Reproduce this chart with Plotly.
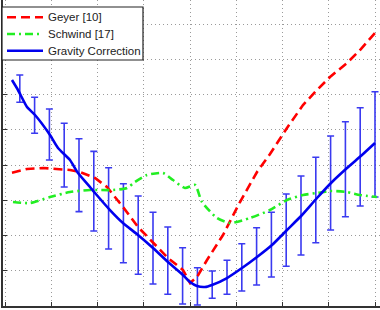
import plotly.graph_objects as go

# Gravity Correction (solid blue line)
grav_x = [0.151, 0.281, 0.476, 0.649, 0.973, 1.146, 1.405, 1.578, 1.838, 1.946, 2.270, 2.551,
          2.876, 3.200, 3.524, 3.849, 4.000, 4.151, 4.324, 4.476, 4.800, 5.124, 5.449, 5.773,
          6.097, 6.422, 6.746, 7.070, 7.395, 7.719, 8.0]
grav_y = [6.411, 6.128, 5.645, 5.418, 4.851, 4.482, 4.142, 3.773, 3.376, 3.206, 2.723, 2.355,
          2.014, 1.645, 1.248, 0.879, 0.681, 0.567, 0.539, 0.596, 0.794, 1.078, 1.390, 1.730,
          2.156, 2.582, 3.064, 3.518, 3.915, 4.284, 4.624]

# error bars
err_x = [0.32 * k for k in range(1, 26)]
err_mean = [6.166, 5.410, 4.865, 4.279, 3.711, 3.258, 2.770, 2.349, 2.010, 1.641, 1.287, 0.855,
            0.557, 0.606, 0.814, 1.096, 1.409, 1.740, 2.152, 2.567, 3.007, 3.489, 3.881, 4.231, 4.586]
err_half = [0.387, 0.511, 0.723, 0.904, 1.035, 1.130, 1.153, 1.121, 1.111, 1.017, 0.955, 0.799,
            0.529, 0.387, 0.482, 0.671, 0.813, 0.918, 1.026, 1.121, 1.211, 1.333, 1.348, 1.394, 1.494]

# Geyer [10] (red dashed)
geyer_x = [0.151, 0.476, 0.822, 1.081, 1.405, 1.622, 1.946, 2.205, 2.551, 2.876, 3.200, 3.524,
           3.849, 4.000, 4.151, 4.368, 4.714, 5.081, 5.449, 5.730, 6.097, 6.443, 6.746, 7.027,
           7.395, 7.676, 8.0]
geyer_y = [3.782, 3.887, 3.915, 3.887, 3.858, 3.801, 3.631, 3.376, 2.809, 2.241, 1.787, 1.362,
           1.021, 0.652, 0.823, 1.305, 2.014, 2.950, 3.801, 4.312, 5.050, 5.700, 6.128, 6.496,
           6.894, 7.262, 7.745]

# Schwind [17] (green dash-dot)
schwind_x = [0.173, 0.541, 0.973, 1.405, 1.838, 2.335, 2.638, 2.811, 3.070, 3.416, 3.632, 3.892,
             4.108, 4.259, 4.584, 4.865, 5.297, 5.730, 6.097, 6.443, 6.746, 7.027, 7.395, 7.676, 8.04]
schwind_y = [2.950, 2.922, 3.092, 3.234, 3.291, 3.291, 3.348, 3.518, 3.716, 3.773, 3.574, 3.348,
             3.433, 2.950, 2.496, 2.355, 2.496, 2.723, 3.007, 3.149, 3.206, 3.262, 3.234, 3.149, 3.092]

series_names = ["Geyer [10]", "Schwind [17]", "Gravity Correction"]
series_colors = ["#ff0000", "#22ee22", "#0000ee"]
series_dash = ["9px,5px", "8px,4px,2px,4px", "solid"]

fig = go.Figure()

fig.add_trace(go.Scatter(
    x=err_x, y=err_mean, mode="markers", showlegend=False,
    marker=dict(size=0.1, color="rgba(0,0,0,0)"),
    error_y=dict(type="data", array=err_half, visible=True, color="#3a3af0",
                 thickness=1.6, width=3.5),
    hoverinfo="skip"))

fig.add_trace(go.Scatter(
    x=geyer_x, y=geyer_y, mode="lines", name=series_names[0], showlegend=False,
    line=dict(color=series_colors[0], width=2.6, dash=series_dash[0])))

fig.add_trace(go.Scatter(
    x=schwind_x, y=schwind_y, mode="lines", name=series_names[1], showlegend=False,
    line=dict(color=series_colors[1], width=2.6, dash=series_dash[1], shape="spline", smoothing=0.6)))

fig.add_trace(go.Scatter(
    x=grav_x, y=grav_y, mode="lines", name=series_names[2], showlegend=False,
    line=dict(color=series_colors[2], width=2.6, shape="spline", smoothing=0.5)))

axis_common = dict(
    showgrid=True, gridcolor="#9a9a9a", griddash="1px,3px", gridwidth=1,
    zeroline=False, showticklabels=False,
    ticks="inside", ticklen=4, tickcolor="#333333",
    showline=True, linecolor="#333333", linewidth=1.5,
    dtick=1, tick0=0, mirror=False,
)

fig.update_xaxes(range=[-0.0432, 8.108], **axis_common)
fig.update_yaxes(range=[0, 8.681], **axis_common)

# manual legend box (paper coordinates of the plot area: 377 x 306 px)
W, H = 377.0, 306.0
def px(x):
    return (x - 3) / W
def py(y):
    return (306 - y) / H

shapes = [dict(type="rect", xref="paper", yref="paper", layer="above",
               x0=px(2), x1=px(143), y0=py(60), y1=py(7),
               fillcolor="white", line=dict(color="#222222", width=1.2))]
annotations = []
row_y = [17.3, 34, 50.7]
for name, col, dash, ry in zip(series_names, series_colors, series_dash, row_y):
    shapes.append(dict(type="line", xref="paper", yref="paper", layer="above",
                       x0=px(7), x1=px(43), y0=py(ry), y1=py(ry),
                       line=dict(color=col, width=2.6, dash=dash)))
    annotations.append(dict(xref="paper", yref="paper", x=px(46), y=py(ry),
                            xanchor="left", yanchor="middle", showarrow=False,
                            text=name, font=dict(size=11.5, color="#222222")))

fig.update_layout(
    width=380, height=310,
    margin=dict(l=3, r=0, t=0, b=4),
    paper_bgcolor="white", plot_bgcolor="white",
    font=dict(family="Liberation Sans, Arial, sans-serif", size=12, color="#222222"),
    showlegend=False,
    shapes=shapes, annotations=annotations,
)

fig.write_html("out.html")
